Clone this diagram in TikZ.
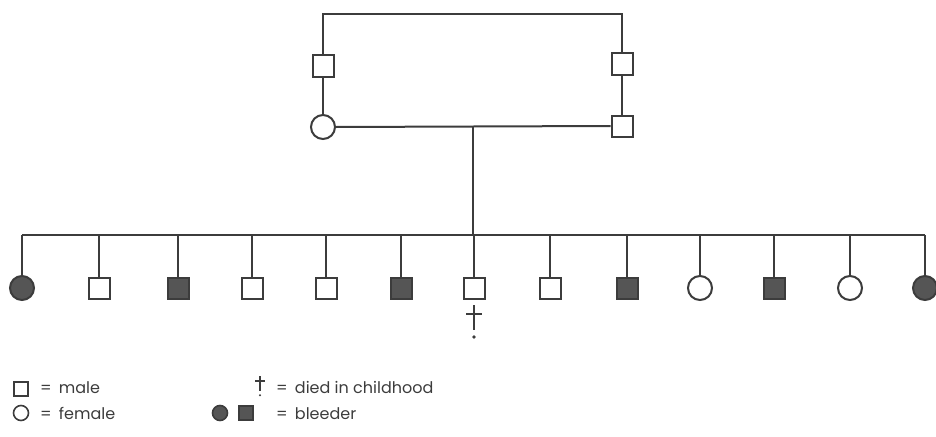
\documentclass[tikz,border=0pt]{standalone}
\usepackage{fontspec}
\setmainfont{Poppins}
\definecolor{ink}{HTML}{3C3C3C}
\definecolor{solid}{HTML}{555555}
\tikzset{
  line/.style={draw=ink, line width=2pt},
  male/.style={rectangle, draw=ink, line width=2pt, fill=white, minimum size=21pt, inner sep=0pt},
  female/.style={circle, draw=ink, line width=2pt, fill=white, minimum size=24pt, inner sep=0pt},
  bleeder/.style={fill=solid},
  lmale/.style={male, minimum size=14pt, line width=1.6pt},
  lfemale/.style={female, minimum size=15pt, line width=1.6pt},
  legend/.style={anchor=base west, inner sep=0pt, text=ink, font=\fontsize{16}{18}\selectfont},
}
% dagger drawn from strokes: #1 = top point, #2 = scale
\newcommand{\crossmark}[2]{%
  \begin{scope}[shift={#1}, scale=#2]
    \draw[ink, line width=2pt] (0,0) -- (0,25);
    \draw[ink, line width=2pt] (-8,9) -- (8,9);
    \fill[ink] (0,32) circle (1.8);
  \end{scope}}
\newcommand{\eqsign}{=\hspace{0.45em}}
\begin{document}
\begin{tikzpicture}[x=1pt, y=-1pt]
  \useasboundingbox (0,0) rectangle (936,436);

  % grandparents and parents
  \node[male] (gpl) at (323,66) {};
  \node[male] (gpr) at (622,64) {};
  \node[female] (mother) at (323,127) {};
  \node[male] (father) at (622,126) {};
  \coordinate (tl) at (323,14);
  \coordinate (tr) at (622,14);
  \draw[line] (gpl.north) -- (tl) -- (tr) -- (gpr.north);
  \draw[line] (gpl.south) -- (mother.north);
  \draw[line] (gpr.south) -- (father.north);
  \draw[line] (mother.east) -- (father.west);
  \coordinate (union) at (473,127);
  \coordinate (sibmid) at (473,235);
  \draw[line] (union) -- (sibmid);

  % sibship
  \coordinate (sibl) at (22,235);
  \coordinate (sibr) at (925,235);
  \draw[line] (sibl) -- (sibr);
  \node[female, bleeder] (c1)  at (22,288)  {};
  \node[male]            (c2)  at (99,288)  {};
  \node[male, bleeder]   (c3)  at (178,288) {};
  \node[male]            (c4)  at (252,288) {};
  \node[male]            (c5)  at (326,288) {};
  \node[male, bleeder]   (c6)  at (401,288) {};
  \node[male]            (c7)  at (474,288) {};
  \node[male]            (c8)  at (550,288) {};
  \node[male, bleeder]   (c9)  at (627,288) {};
  \node[female]          (c10) at (700,288) {};
  \node[male, bleeder]   (c11) at (774,288) {};
  \node[female]          (c12) at (850,288) {};
  \node[female, bleeder] (c13) at (925,288) {};
  \foreach \c in {c1,c2,c3,c4,c5,c6,c7,c8,c9,c10,c11,c12,c13}
    \draw[line] (\c.north |- sibl) -- (\c.north);

  \crossmark{(474,305)}{1}

  % key
  \node[lmale] (kmale) at (21,389) {};
  \node[legend] (tmale) at (40,393) {\eqsign male};
  \node[lfemale] (kfemale) at (21,413) {};
  \node[legend] (tfemale) at (40,419) {\eqsign female};
  \crossmark{(260,376)}{0.6}
  \node[legend] (tdied) at (276,393) {\eqsign died in childhood};
  \node[lfemale, bleeder] (kbf) at (220,413) {};
  \node[lmale, bleeder] (kbm) at (246,413) {};
  \node[legend] (tbleeder) at (276,419) {\eqsign bleeder};
\end{tikzpicture}
\end{document}
